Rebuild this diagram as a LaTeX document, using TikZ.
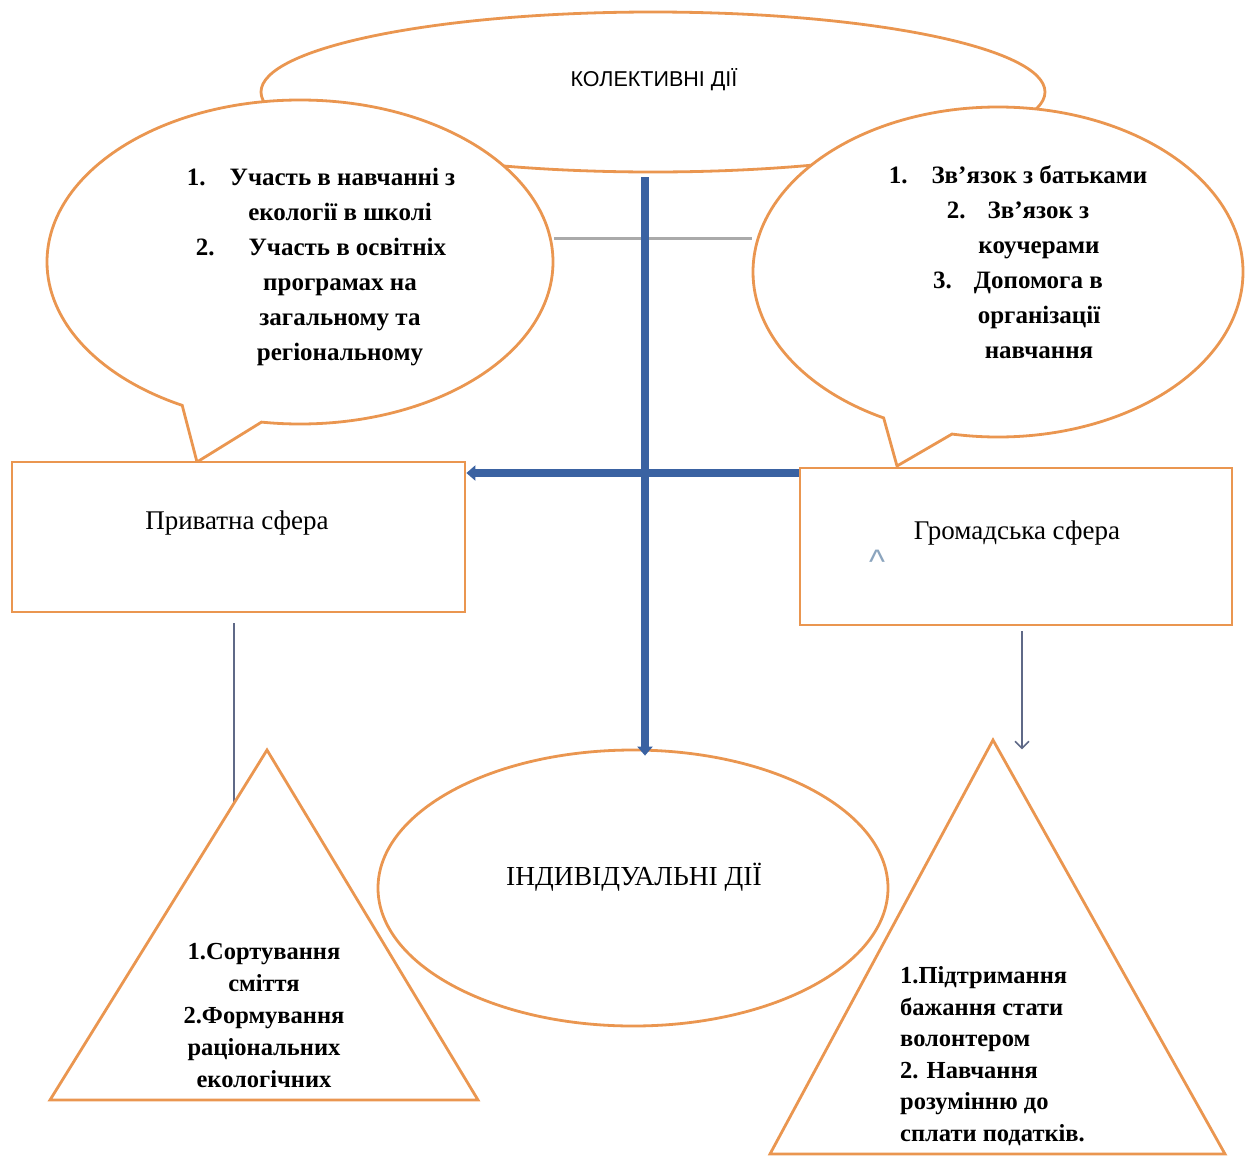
\documentclass[tikz,border=0pt]{standalone}
\usepackage{fontspec}
\setmainfont{Liberation Serif}
\newfontfamily\titlefont{Liberation Sans}
\usetikzlibrary{shapes.geometric,shapes.callouts,arrows.meta,calc}
\definecolor{orng}{RGB}{234,150,80}
\definecolor{blu}{RGB}{58,98,162}
\definecolor{lgray}{RGB}{170,170,170}
\definecolor{sgray}{RGB}{95,105,135}
\definecolor{caretc}{RGB}{140,165,190}
\pgfdeclarelayer{bg}
\pgfsetlayers{bg,main}
\begin{document}
\begin{tikzpicture}[x=1pt,y=-1pt,
  shapeline/.style={draw=orng, line width=2.8pt, fill=white},
  ell/.style={shapeline, ellipse, inner sep=0pt},
  bubble/.style={shapeline, ellipse callout, inner sep=0pt, callout pointer arc=19},
  box/.style={shapeline, rectangle, inner sep=0pt},
  txt/.style={text=black, inner sep=0pt, align=center},
  bubtxt/.style={txt, font=\fontsize{25}{35}\bfseries\selectfont},
  tritxt/.style={txt, font=\fontsize{24.5}{32}\bfseries\selectfont},
  boxtxt/.style={txt, font=\fontsize{27}{30}\selectfont},
  blueline/.style={draw=blu, line width=8pt},
  bluetip/.style={-{Triangle[length=9pt,width=15pt]}},
  thinline/.style={draw=sgray, line width=1.6pt},
  linkline/.style={draw=lgray, line width=3pt}
]
\useasboundingbox (0,0) rectangle (1248,1157);

% top ellipse
\node[ell, minimum width=784pt, minimum height=160pt] (koll) at (653,92) {};
\node[txt, font=\titlefont\fontsize{21.5}{24}\selectfont] (kolltxt) at (654,80) {КОЛЕКТИВНІ ДІЇ};

% callouts
\coordinate (lcp) at (197,462);
\coordinate (rcp) at (897,466);
\node[bubble, minimum width=506pt, minimum height=324pt, callout absolute pointer={(lcp)}] (cl) at (300,262) {};
\node[bubble, minimum width=490pt, minimum height=330pt, callout absolute pointer={(rcp)}, callout pointer arc=17] (cr) at (998,272) {};
\begin{pgfonlayer}{bg}
\draw[linkline] (cl.east |- 0,238) -- (cr.west |- 0,238);
\end{pgfonlayer}

\node[bubtxt] (ltxt) at (321,267) {1.\kern24pt Участь в навчанні\kern6pt з\\
\kern38pt екології в школі\\
2.\kern34pt Участь в\kern6pt освітніх\\
\kern38pt програмах на\\
\kern38pt загальному та\\
\kern38pt регіональному};

\node[bubtxt] (rtxt) at (1018,262) {1.\kern24pt Зв’язок з батьками\\
2.\kern22pt Зв’язок з\\
\kern42pt коучерами\\
3.\kern22pt Допомога в\\
\kern42pt організації\\
\kern42pt навчання};

% rectangles
\node[box, minimum width=453pt, minimum height=150pt] (rl) at (238.5,537) {};
\node[boxtxt] (rltxt) at (237,523) {Приватна сфера};
\node[box, minimum width=432pt, minimum height=157pt] (rr) at (1016,546.5) {};
\node[boxtxt] (rrtxt) at (1017,533) {Громадська сфера};
\node[txt, text=caretc, font=\titlefont\fontsize{34}{34}\selectfont] (caret) at (877,562) {\textasciicircum};

% bottom ellipse
\node[ell, minimum width=510pt, minimum height=276pt] (ind) at (633,888) {};
\node[boxtxt, font=\fontsize{27.5}{30}\selectfont] (indtxt) at (634,877) {ІНДИВІДУАЛЬНІ ДІЇ};

% thin connectors
\coordinate (lstart) at ($(rl.south)+(-4.5,10)$);
\draw[thinline] (lstart) -- ++(0,190);
\coordinate (rstart) at ($(rr.south)+(6,5)$);
\draw[thinline, -{Straight Barb[length=7pt,width=14pt]}] (rstart) -- ++(0,118);

% triangles
\coordinate (ta1) at (267,750);
\coordinate (tbl1) at (50,1100);
\coordinate (tbr1) at (478,1100);
\draw[shapeline, line join=miter] (ta1) -- (tbl1) -- (tbr1) -- cycle;
\coordinate (ta2) at (993,740);
\coordinate (tbl2) at (770,1154);
\coordinate (tbr2) at (1225,1154);
\draw[shapeline, line join=miter] (ta2) -- (tbl2) -- (tbr2) -- cycle;

\node[tritxt] (t1txt) at (264,1015) {1.Сортування\\сміття\\2.Формування\\раціональних\\екологічних};
\node[tritxt, align=left, anchor=west, font=\fontsize{24.5}{31.5}\bfseries\selectfont] (t2txt) at (900,1056) {1.Підтримання\\бажання стати\\волонтером\\2. Навчання\\розумінню до\\сплати податків.};

% blue connectors
\coordinate (vtop) at (645,177);
\draw[blueline, bluetip] (vtop) -- ($(vtop |- ind.north)+(0,7)$);
\draw[blueline, bluetip] (rr.west |- 0,473) -- (rl.east |- 0,473);
\end{tikzpicture}
\end{document}
